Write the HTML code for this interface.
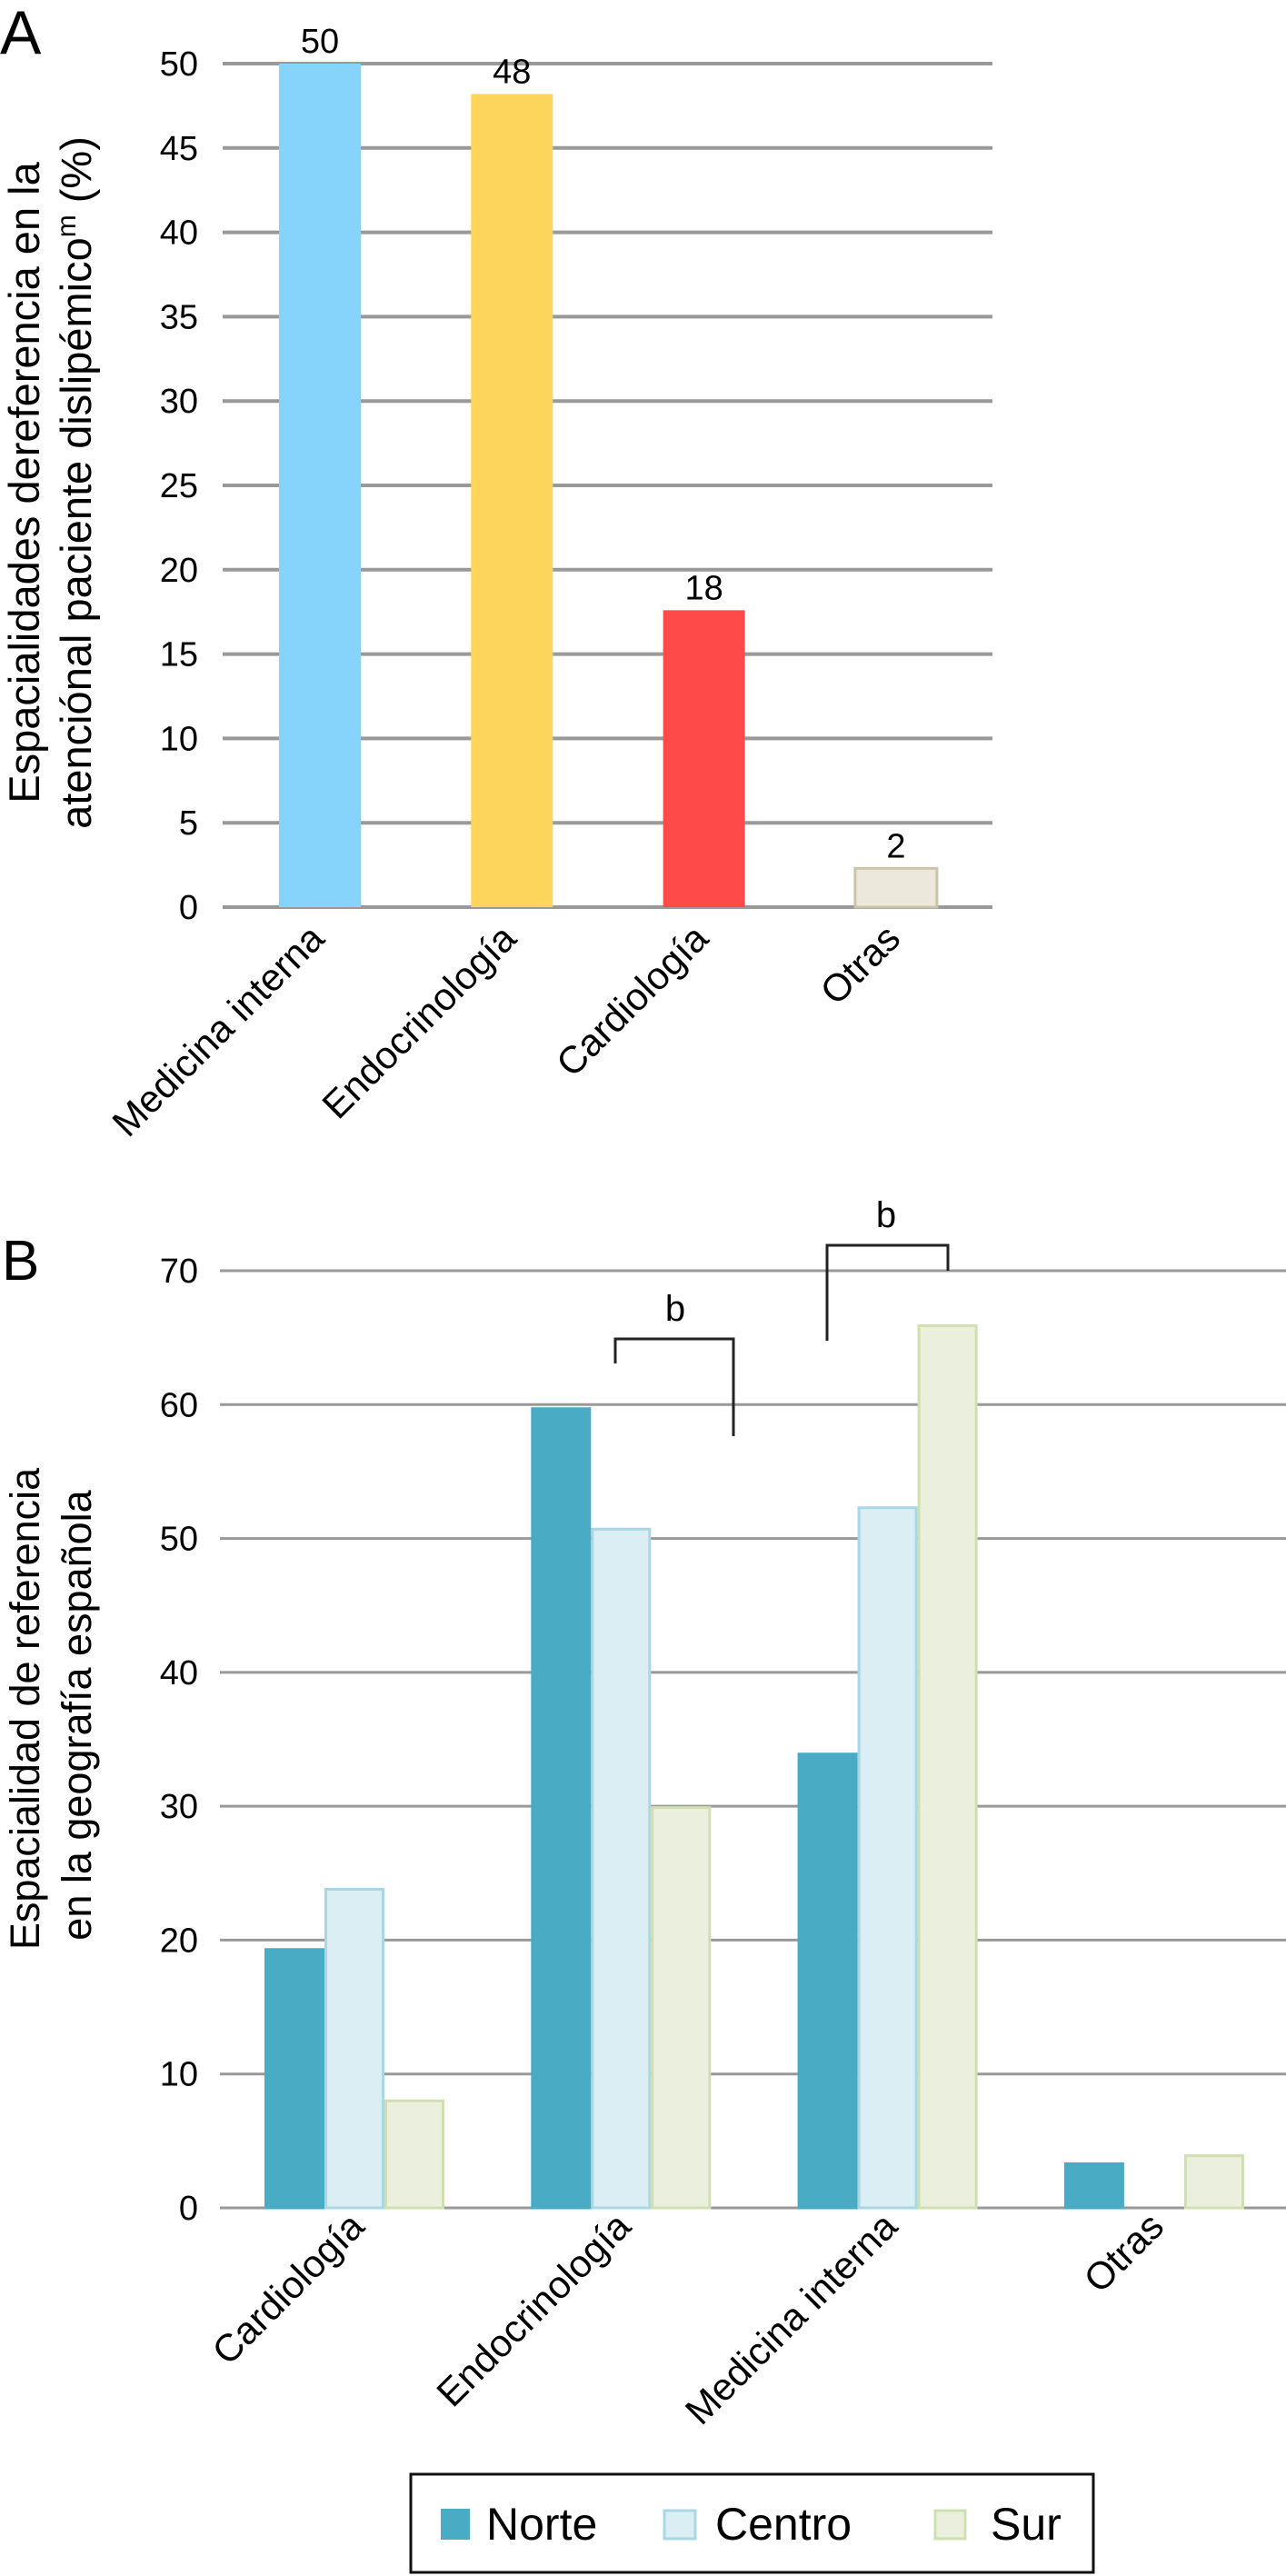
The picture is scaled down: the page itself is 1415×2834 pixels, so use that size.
<!DOCTYPE html>
<html><head><meta charset="utf-8">
<style>
html,body{margin:0;padding:0;background:#fff;}
svg{display:block;font-family:"Liberation Sans",Arial,sans-serif;}
</style></head>
<body>
<svg id="chart" width="1415" height="2834" viewBox="0 0 1415 2834" xmlns="http://www.w3.org/2000/svg">
  <text x="0" y="59" font-size="68">A</text>
  <g font-size="47" text-anchor="middle">
    <text transform="translate(43,531) rotate(-90)">Espacialidades dereferencia en la</text>
    <text transform="translate(100,531) rotate(-90)">atenciónal paciente dislipémico<tspan font-size="30" dy="-17">m</tspan><tspan dy="17"> (%)</tspan></text>
  </g>
  <g id="gA"></g>

  <text x="2" y="1408" font-size="62">B</text>
  <g font-size="45" text-anchor="middle">
    <text transform="translate(43,1880) rotate(-90)">Espacialidad de referencia</text>
    <text transform="translate(100,1887) rotate(-90)">en la geografía española</text>
  </g>
  <g id="gB"></g>

  <g fill="none" stroke="#222" stroke-width="3">
    <polyline points="677,1500 677,1473 807,1473 807,1580"/>
  </g>
  <text x="743" y="1453" font-size="40" text-anchor="middle">b</text>
  <g fill="none" stroke="#222" stroke-width="3">
    <polyline points="910,1475 910,1370 1043,1370 1043,1398"/>
  </g>
  <text x="975" y="1350" font-size="40" text-anchor="middle">b</text>

  <g>
    <rect x="452" y="2722" width="751" height="108" fill="#fff" stroke="#111" stroke-width="3"/>
    <rect x="485" y="2760" width="32" height="34" fill="#4aabc5"/>
    <text x="535" y="2794" font-size="50">Norte</text>
    <rect x="731" y="2762" width="34" height="31" fill="#dbeef4" stroke="#a8d8e6" stroke-width="3"/>
    <text x="787" y="2794" font-size="50">Centro</text>
    <rect x="1029" y="2762" width="33" height="31" fill="#ebf0de" stroke="#cfe0b0" stroke-width="3"/>
    <text x="1090" y="2794" font-size="50">Sur</text>
  </g>
</svg>
<script>
// ---- Panel A data ----
const catsA = ["Medicina interna", "Endocrinología", "Cardiología", "Otras"];
const valsA = [50, 48.2, 17.6, 2.3];
const labelsA = ["50", "48", "18", "2"];
const ticksA = [0, 5, 10, 15, 20, 25, 30, 35, 40, 45, 50];
// ---- Panel B data ----
const catsB = ["Cardiología", "Endocrinología", "Medicina interna", "Otras"];
const norte = [19.4, 59.8, 34.0, 3.4];
const centro = [23.9, 50.8, 52.4, 0];
const sur = [8.1, 30.0, 66.0, 4.0];
const ticksB = [0, 10, 20, 30, 40, 50, 60, 70];

const NS = "http://www.w3.org/2000/svg";
function mk(tag, attrs, parent){const e=document.createElementNS(NS,tag);for(const k in attrs)e.setAttribute(k,attrs[k]);parent.appendChild(e);return e;}

// Panel A
const gA = document.getElementById('gA');
const yA = v => 998 - v * (928 / 50);
const xA = i => 307 + i * 211.3;
ticksA.forEach(t => {
  const l = mk('line', {x1:245, x2:1092, y1:yA(t), y2:yA(t), stroke:'#999', 'stroke-width':4}, gA);
  
  
  const tx = mk('text', {x:218, y:yA(t)+13, 'font-size':38, 'text-anchor':'end'}, gA);
  tx.textContent = t;
  
  
});
const fillsA = ['#86d3fb', '#fdd55b', '#ff4a4a', '#ece9dc'];
const strokesA = ['none', 'none', 'none', '#cbc4a6'];
catsA.forEach((c, i) => {
  const top = yA(valsA[i]);
  const r = mk('rect', {x:xA(i), y:top, width:90, height:998-top, fill:fillsA[i], stroke:strokesA[i], 'stroke-width':3}, gA);
  
  
  const v = mk('text', {x:xA(i)+45, y:top-12, 'font-size':38, 'text-anchor':'middle'}, gA);
  v.textContent = labelsA[i];
  
  
  const cx = xA(i) + 52, cy = 1035;
  const t = mk('text', {x:cx, y:cy, 'font-size':42, 'text-anchor':'end', transform:`rotate(-45 ${cx} ${cy})`}, gA);
  t.textContent = c;
  
  
});

// Panel B
const gB = document.getElementById('gB');
const yB = v => 2429 - v * (1031 / 70);
const gx = i => 291 + i * 293.3;
ticksB.forEach(t => {
  const l = mk('line', {x1:242, x2:1415, y1:yB(t), y2:yB(t), stroke:'#999', 'stroke-width':3}, gB);
  
  
  const tx = mk('text', {x:218, y:yB(t)+13, 'font-size':38, 'text-anchor':'end'}, gB);
  tx.textContent = t;
  
  
});
const series = [norte, centro, sur];
const fillsB = ['#4aabc5', '#dbeef4', '#ebf0de'];
const strokesB = ['#4aabc5', '#a8d8e6', '#cfe0b0'];
catsB.forEach((c, i) => {
  series.forEach((s, j) => {
    if (s[i] <= 0) return;
    const top = yB(s[i]);
    const r = mk('rect', {x:gx(i)+j*66+1.5, y:top+1.5, width:63, height:2429-top-1.5, fill:fillsB[j], stroke:strokesB[j], 'stroke-width':3}, gB);
    
    
  });
  const cx = gx(i) + 112, cy = 2452;
  const t = mk('text', {x:cx, y:cy, 'font-size':42, 'text-anchor':'end', transform:`rotate(-45 ${cx} ${cy})`}, gB);
  t.textContent = c;
  
  
});
</script>
</body></html>
